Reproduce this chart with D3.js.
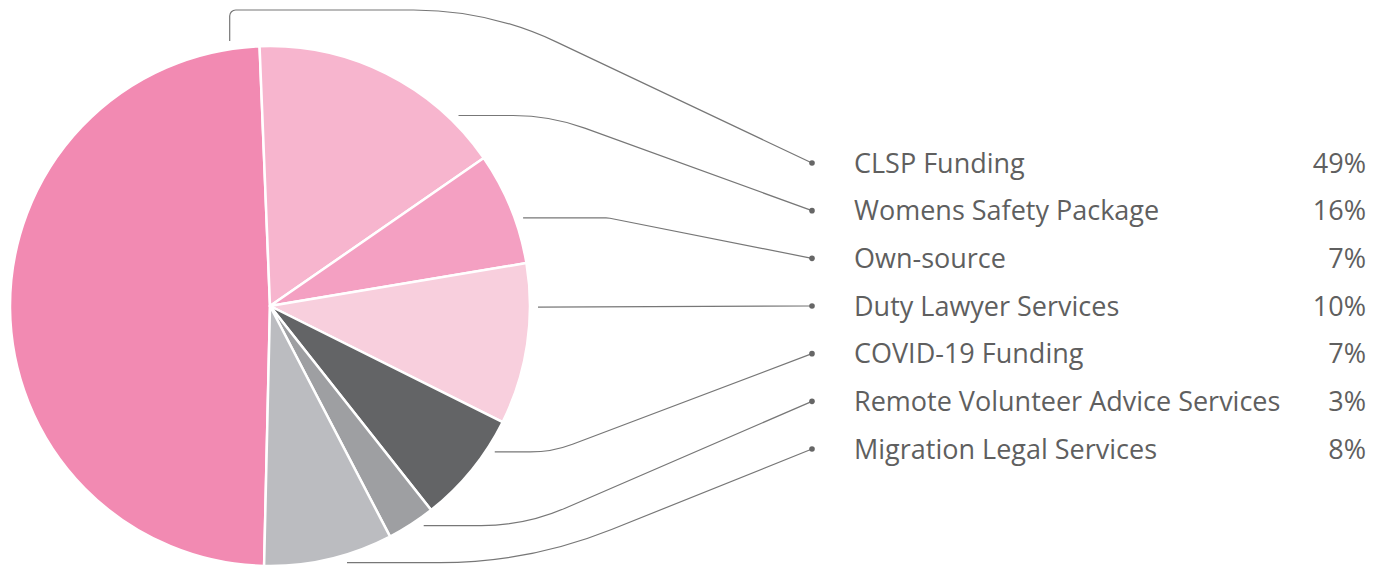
<!DOCTYPE html>
<html>
<head>
<meta charset="utf-8">
<script src="https://cdn.jsdelivr.net/npm/d3@7"></script>
<style>
  body { margin: 0; background: #fff; }
  svg { display: block; font-family: "Open Sans", sans-serif; }
  .leg-name, .leg-pct { fill: #5f5f5f; font-size: 27px; }
  .leader { fill: none; stroke: #777; stroke-width: 1.2; }
</style>
</head>
<body>
<svg id="chart"></svg>
<script>
  //begin: data
  var categories = ["CLSP Funding", "Womens Safety Package", "Own-source", "Duty Lawyer Services",
                    "COVID-19 Funding", "Remote Volunteer Advice Services", "Migration Legal Services"];
  var shares = [49, 16, 7, 10, 7, 3, 8];
  var colors = ["#f28ab2", "#f7b5ce", "#f4a0c2", "#f8cfdd", "#636466", "#9e9fa2", "#bbbcc0"];
  //end: data

  //begin: layout conf.
  var width = 1384, height = 565,
      cx = 270, cy = 306, radius = 260,
      startDeg = 181.3,
      anchorR = radius + 8,
      dotX = 812, nameX = 854, pctX = 1366,
      rowTop = 163, rowBottom = 449;
  // where each leader line leaves its slice (fraction of the slice), where it bends, how round the bend is
  var leaderAt    = [0.964, 0.816, 0.615, 0.27, 0.258, 0.306, 0.375],
      leaderElbow = [489, 550, 608, null, 552, 525, 529],
      leaderRound = [336, 210, 20, 0, 120, 211, 460],
      railY = 10; // the first leader climbs over the pie
  //end: layout conf.

  var svg = d3.select("#chart").attr("width", width).attr("height", height);

  var rows = categories.map(function(c, i) {
    return {name: c, value: shares[i], color: colors[i], i: i};
  });

  var pie = d3.pie()
    .sort(null)
    .value(function(d) { return d.value; })
    .startAngle(startDeg * Math.PI / 180)
    .endAngle(startDeg * Math.PI / 180 + 2 * Math.PI);

  var arc = d3.arc().innerRadius(0).outerRadius(radius);
  var arcs = pie(rows);

  var pieG = svg.append("g").attr("transform", "translate(" + [cx, cy] + ")");
  pieG.selectAll("path")
    .data(arcs)
    .enter().append("path")
      .attr("d", arc)
      .style("fill", function(d) { return d.data.color; })
      .style("stroke", "#fff")
      .style("stroke-width", 2.5)
      .style("stroke-linejoin", "round");

  var rowY = d3.scalePoint().domain(categories).range([rowTop, rowBottom]);

  function leaderPath(d) {
    var i = d.data.i,
        a = d.startAngle + (d.endAngle - d.startAngle) * leaderAt[i],
        ax = cx + anchorR * Math.sin(a),
        ay = cy - anchorR * Math.cos(a),
        end = [dotX, rowY(d.data.name)],
        pts = [[ax, ay]],
        radii = [];
    if (i === 0) {
      pts.push([ax, railY]); radii.push(6);
      pts.push([leaderElbow[i], railY]); radii.push(leaderRound[i]);
    } else if (leaderElbow[i] != null) {
      pts.push([leaderElbow[i], ay]); radii.push(leaderRound[i]);
    }
    pts.push(end);
    var p = d3.path();
    p.moveTo(pts[0][0], pts[0][1]);
    for (var k = 1; k < pts.length - 1; k++) {
      p.arcTo(pts[k][0], pts[k][1], pts[k + 1][0], pts[k + 1][1], radii[k - 1]);
    }
    p.lineTo(end[0], end[1]);
    return p.toString();
  }

  svg.append("g").selectAll("path")
    .data(arcs)
    .enter().append("path")
      .classed("leader", true)
      .attr("d", leaderPath);

  var legend = svg.append("g").selectAll("g")
    .data(rows)
    .enter().append("g")
      .attr("transform", function(d) { return "translate(" + [0, rowY(d.name)] + ")"; });

  legend.append("circle")
    .attr("cx", dotX)
    .attr("r", 2.8)
    .style("fill", "#666");

  legend.append("text")
    .classed("leg-name", true)
    .attr("x", nameX)
    .attr("dy", "0.36em")
    .text(function(d) { return d.name; });

  legend.append("text")
    .classed("leg-pct", true)
    .attr("x", pctX)
    .attr("dy", "0.36em")
    .attr("text-anchor", "end")
    .text(function(d) { return d.value + "%"; });
</script>
</body>
</html>
